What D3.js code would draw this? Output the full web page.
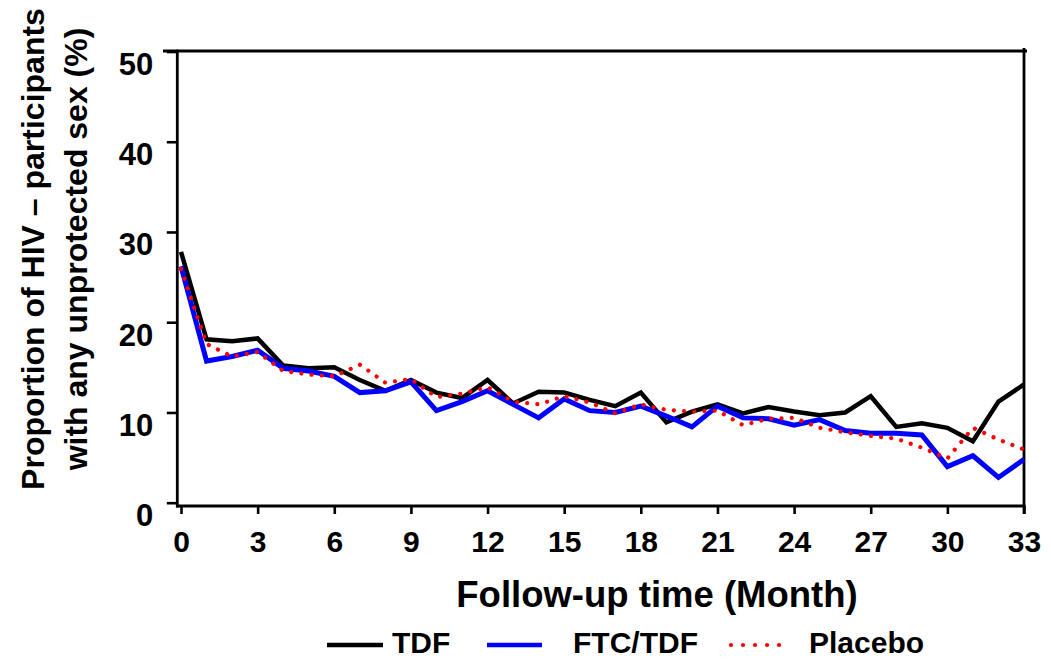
<!DOCTYPE html>
<html>
<head>
<meta charset="utf-8">
<script src="https://cdn.jsdelivr.net/npm/d3@7"></script>
<style>
  html, body { margin: 0; padding: 0; background: #fff; }
  svg { display: block; }
  text { font-family: "Liberation Sans", Arial, sans-serif; font-weight: bold; fill: #000; }
</style>
</head>
<body>
<svg id="chart" width="1051" height="659"></svg>
<script>
// Follow-up months
const months = d3.range(0, 34);

// Proportion (%) reporting any unprotected sex, by arm
const tdf = [27.8, 18.1, 17.9, 18.2, 15.2, 14.9, 15.0, 13.6, 12.4, 13.6,
             12.2, 11.6, 13.6, 11.0, 12.3, 12.2, 11.4, 10.7, 12.2, 8.9,
             10.1, 10.9, 9.9, 10.6, 10.1, 9.7, 10.0, 11.8, 8.4, 8.8,
             8.3, 6.8, 11.2, 13.1];
const ftcTdf = [26.2, 15.7, 16.2, 16.9, 14.9, 14.6, 14.0, 12.2, 12.4, 13.4,
                10.2, 11.2, 12.4, 10.9, 9.4, 11.5, 10.2, 10.0, 10.7, 9.6,
                8.4, 10.7, 9.4, 9.3, 8.6, 9.2, 8.0, 7.7, 7.7, 7.5,
                4.0, 5.2, 2.8, 4.8];
const placebo = [25.9, 17.6, 16.2, 16.7, 14.6, 14.2, 14.0, 15.3, 13.3, 13.7,
                 11.7, 12.1, 12.8, 11.2, 10.9, 11.8, 11.1, 9.9, 10.9, 10.3,
                 10.1, 10.2, 8.6, 9.3, 9.4, 8.3, 7.8, 7.4, 7.1, 6.1,
                 4.9, 8.3, 7.0, 5.9];

const xTicks = d3.range(0, 34, 3);
const yTicks = [0, 10, 20, 30, 40, 50];

const seriesNames = ["TDF", "FTC/TDF", "Placebo"];

const svg = d3.select("#chart");

const x = d3.scaleLinear().domain([0, 33]).range([181, 1024]);
const y = d3.scaleLinear().domain([0, 50]).range([502.7, 51.5]);

const plotLeft = 177.3, plotRight = 1024, plotTop = 51, plotBottom = 506;

// Frame: left axis, bottom axis, top and right borders
const frame = svg.append("g").attr("stroke", "#000").attr("fill", "none");
frame.append("line").attr("x1", plotLeft).attr("x2", plotLeft).attr("y1", plotTop - 1.3).attr("y2", plotBottom + 1.5).attr("stroke-width", 2.8);
frame.append("line").attr("x1", plotLeft - 1.3).attr("x2", plotRight + 1.5).attr("y1", plotBottom).attr("y2", plotBottom).attr("stroke-width", 3);
frame.append("line").attr("x1", 163).attr("x2", plotRight + 3).attr("y1", plotTop).attr("y2", plotTop).attr("stroke-width", 2.8);
frame.append("line").attr("x1", plotRight).attr("x2", plotRight).attr("y1", plotTop - 3).attr("y2", plotBottom + 8).attr("stroke-width", 2.8);

// Y axis ticks and labels
const yAxis = d3.axisLeft(y).tickValues(yTicks).tickSize(10.5).tickPadding(0).tickFormat(d3.format("d"));
const gy = svg.append("g").attr("transform", `translate(${plotLeft},0)`).call(yAxis);
gy.select(".domain").remove();
gy.selectAll(".tick line").attr("stroke", "#000").attr("stroke-width", 2.6);
gy.selectAll(".tick text")
  .attr("x", -24).attr("dy", null).attr("y", 23)
  .attr("text-anchor", "end")
  .style("font-size", "31px");

// X axis ticks and labels
const xAxis = d3.axisBottom(x).tickValues(xTicks).tickSize(8).tickPadding(0).tickFormat(d3.format("d"));
const gx = svg.append("g").attr("transform", `translate(0,${plotBottom})`).call(xAxis);
gx.select(".domain").remove();
gx.selectAll(".tick line").attr("stroke", "#000").attr("stroke-width", 2.6);
gx.selectAll(".tick text")
  .attr("y", 46).attr("dy", null)
  .style("font-size", "30px");

// Axis titles
svg.append("text")
  .attr("x", 657).attr("y", 607)
  .attr("text-anchor", "middle")
  .style("font-size", "36.5px")
  .text("Follow-up time (Month)");

const yTitle = svg.append("text")
  .attr("transform", "translate(0,249) rotate(-90)")
  .attr("text-anchor", "middle")
  .style("font-size", "32px");
yTitle.append("tspan").attr("x", 0).attr("y", 44).text("Proportion of HIV \u2013 participants");
yTitle.append("tspan").attr("x", 0).attr("y", 87).text("with any unprotected sex (%)");

// Series lines
const line = d3.line().x((d, i) => x(months[i])).y(d => y(d));

svg.append("path").datum(tdf)
  .attr("d", line).attr("fill", "none")
  .attr("stroke", "#000").attr("stroke-width", 4.5).attr("stroke-linejoin", "miter");

svg.append("path").datum(ftcTdf)
  .attr("d", line).attr("fill", "none")
  .attr("stroke", "#0000ff").attr("stroke-width", 5).attr("stroke-linejoin", "miter");

svg.append("path").datum(placebo)
  .attr("d", line).attr("fill", "none")
  .attr("stroke", "#ff0000").attr("stroke-width", 4.2)
  .attr("stroke-linecap", "round").attr("stroke-dasharray", "0.01 10.2");

// Legend
const legend = [
  { name: seriesNames[0], x1: 327, x2: 383, tx: 392, color: "#000", width: 4.5, dash: null },
  { name: seriesNames[1], x1: 487, x2: 542, tx: 573, color: "#0000ff", width: 4.5, dash: null },
  { name: seriesNames[2], x1: 731, x2: 791, tx: 809, color: "#ff0000", width: 4.2, dash: "0.01 12" }
];
const lg = svg.append("g");
legend.forEach(d => {
  const l = lg.append("line")
    .attr("x1", d.x1).attr("x2", d.x2).attr("y1", 645).attr("y2", 645)
    .attr("stroke", d.color).attr("stroke-width", d.width);
  if (d.dash) l.attr("stroke-dasharray", d.dash).attr("stroke-linecap", "round");
  lg.append("text").attr("x", d.tx).attr("y", 653).style("font-size", "30px").text(d.name);
});
</script>
</body>
</html>
